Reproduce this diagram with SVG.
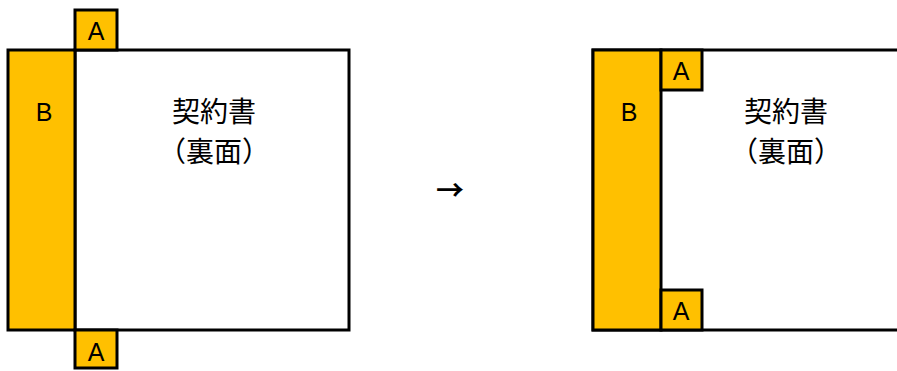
<svg xmlns="http://www.w3.org/2000/svg" width="897" height="371" viewBox="0 0 897 371">
<style>
.doc{fill:#fff;stroke:#000;stroke-width:3}
.tab{fill:#FFC000;stroke:#000;stroke-width:3}
.lbl{font-family:"Liberation Sans",Arial,sans-serif;font-size:25px;fill:#000;text-anchor:middle}
.jp{font-family:"Noto Sans CJK JP",sans-serif;font-size:28px;fill:#000;text-anchor:middle}
</style>
<rect width="897" height="371" fill="#fff"/>
<g id="left-doc">
<rect class="doc" x="75" y="50" width="274" height="280"/>
<text class="jp" x="214" y="122">契約書</text>
<text class="jp" x="214" y="162">（裏面）</text>
</g>
<g id="left-B">
<rect class="tab" x="8" y="50" width="67" height="280"/>
<text class="lbl" x="44" y="121">B</text>
</g>
<g id="left-A-top">
<rect class="tab" x="75" y="10" width="42" height="40"/>
<text class="lbl" x="96" y="40">A</text>
</g>
<g id="left-A-bottom">
<rect class="tab" x="75" y="330" width="42" height="38"/>
<text class="lbl" x="96" y="361">A</text>
</g>
<g id="connectors">
<text class="jp" x="450" y="201" font-weight="bold">→</text>
</g>
<g id="right-doc">
<rect class="doc" x="593" y="50" width="310" height="280"/>
<text class="jp" x="786" y="122">契約書</text>
<text class="jp" x="786" y="162">（裏面）</text>
</g>
<g id="right-B">
<rect class="tab" x="593" y="50" width="68" height="280"/>
<text class="lbl" x="629" y="121">B</text>
</g>
<g id="right-A-top">
<rect class="tab" x="661" y="50" width="41" height="40"/>
<text class="lbl" x="681" y="80">A</text>
</g>
<g id="right-A-bottom">
<rect class="tab" x="661" y="290" width="41" height="40"/>
<text class="lbl" x="681" y="320">A</text>
</g>
</svg>
